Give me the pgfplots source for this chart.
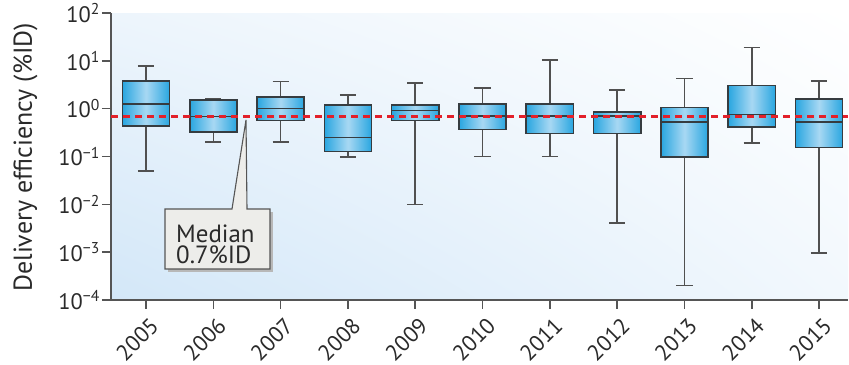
\documentclass[border=0pt]{standalone}
\usepackage{pgfplots}
\pgfplotsset{compat=1.18}
\usepgfplotslibrary{statistics}
\usetikzlibrary{shadings}
\usepackage{fontspec}
\setmainfont{PT Sans}
\definecolor{boxedge}{HTML}{29A6E0}
\definecolor{boxmid}{HTML}{A8D8F3}
\definecolor{boxline}{HTML}{363C40}
\definecolor{whisk}{HTML}{505050}
\definecolor{axgray}{HTML}{555555}
\definecolor{medred}{HTML}{E2202A}
\definecolor{bgll}{HTML}{D3E7F8}
\definecolor{bgul}{HTML}{EDF5FC}
\definecolor{bglr}{HTML}{F2F8FD}
\definecolor{calfill}{HTML}{EDEDEA}
\definecolor{txt}{HTML}{2A2A2A}
\begin{document}
\begin{tikzpicture}
\begin{axis}[
  at={(0bp,0bp)}, anchor=south west,
  scale only axis, width=737bp, height=287bp,
  xmin=-0.52, xmax=10.43, ymin=1e-4, ymax=1e2, ymode=log,
  axis lines=left,
  axis line style={-, draw=axgray, line width=1.6bp},
  axis background/.style={shade, lower left=bgll, upper left=bgul, lower right=bglr, upper right=white},
  xtick={0,1,2,3,4,5,6,7,8,9,10},
  xticklabels={2005,2006,2007,2008,2009,2010,2011,2012,2013,2014,2015},
  ytick={1e-4,1e-3,1e-2,1e-1,1,1e1,1e2},
  yticklabels={10\textsuperscript{−4},10\textsuperscript{−3},10\textsuperscript{−2},10\textsuperscript{−1},10\textsuperscript{0},10\textsuperscript{1},10\textsuperscript{2}},
  yminorticks=false,
  tick align=outside,
  major tick length=9bp,
  tick style={draw=axgray, line width=1.5bp},
  tick label style={font=\fontsize{22.5}{24}\selectfont, text=txt},
  xticklabel style={rotate=45, anchor=north east, inner sep=0bp, xshift=-3bp, yshift=-7bp},
  yticklabel style={inner sep=2bp},
  ylabel={Delivery efficiency (\%ID)},
  every axis y label/.style={at={(axis description cs:-0.116,0.497)}, rotate=90, anchor=center, font=\fontsize{26}{28}\selectfont, text=txt},
  boxplot/draw direction=y,
  boxplot/box extend=0.7,
  boxplot/whisker extend=0.24,
  boxplot/every box/.style={draw=boxline, line width=1.6bp, left color=boxedge, right color=boxedge, middle color=boxmid},
  boxplot/every whisker/.style={draw=whisk, line width=1.6bp},
  boxplot/every median/.style={draw=boxline, line width=1.6bp},
  clip=false,
]
\addplot[boxplot prepared={draw position=0, lower whisker=0.05, lower quartile=0.44, median=1.25, upper quartile=3.8, upper whisker=7.9}] coordinates {};
\addplot[boxplot prepared={draw position=1, lower whisker=0.2, lower quartile=0.33, median=0.69, upper quartile=1.5, upper whisker=1.6}] coordinates {};
\addplot[boxplot prepared={draw position=2, lower whisker=0.2, lower quartile=0.57, median=1.0, upper quartile=1.76, upper whisker=3.67}] coordinates {};
\addplot[boxplot prepared={draw position=3, lower whisker=0.098, lower quartile=0.128, median=0.25, upper quartile=1.18, upper whisker=1.94}] coordinates {};
\addplot[boxplot prepared={draw position=4, lower whisker=0.01, lower quartile=0.57, median=0.91, upper quartile=1.18, upper whisker=3.4}] coordinates {};
\addplot[boxplot prepared={draw position=5, lower whisker=0.1, lower quartile=0.37, median=0.71, upper quartile=1.24, upper whisker=2.7}] coordinates {};
\addplot[boxplot prepared={draw position=6, lower whisker=0.1, lower quartile=0.30, median=0.71, upper quartile=1.24, upper whisker=10.3}] coordinates {};
\addplot[boxplot prepared={draw position=7, lower whisker=0.0041, lower quartile=0.30, median=0.71, upper quartile=0.85, upper whisker=2.46}] coordinates {};
\addplot[boxplot prepared={draw position=8, lower whisker=0.0002, lower quartile=0.098, median=0.52, upper quartile=1.05, upper whisker=4.25}] coordinates {};
\addplot[boxplot prepared={draw position=9, lower whisker=0.19, lower quartile=0.41, median=0.76, upper quartile=3.03, upper whisker=18.9}] coordinates {};
\addplot[boxplot prepared={draw position=10, lower whisker=0.00096, lower quartile=0.153, median=0.52, upper quartile=1.57, upper whisker=3.8}] coordinates {};
\addplot[medred, line width=3bp, dash pattern=on 7bp off 5bp] coordinates {(-0.52,0.7) (10.43,0.7)};
\end{axis}
% callout (annotation)
\fill[black!28] (57bp,28bp) rectangle (162bp,88bp);
\filldraw[fill=calfill, draw=axgray, line width=1.1bp]
  (54bp,31bp) -- (159bp,31bp) -- (159bp,91bp) -- (136bp,91bp) -- (135bp,180bp) -- (121bp,91bp) -- (54bp,91bp) -- cycle;
\node[anchor=base west, inner sep=0pt, text=txt, font=\fontsize{25}{27}\selectfont] at (65bp,57bp) {Median};
\node[anchor=base west, inner sep=0pt, text=txt, font=\fontsize{25}{27}\selectfont] at (65bp,37bp) {0.7\%ID};
\pgfresetboundingbox
\path[use as bounding box] (-111bp,-65bp) rectangle (738bp,300bp);
\end{tikzpicture}
\end{document}
